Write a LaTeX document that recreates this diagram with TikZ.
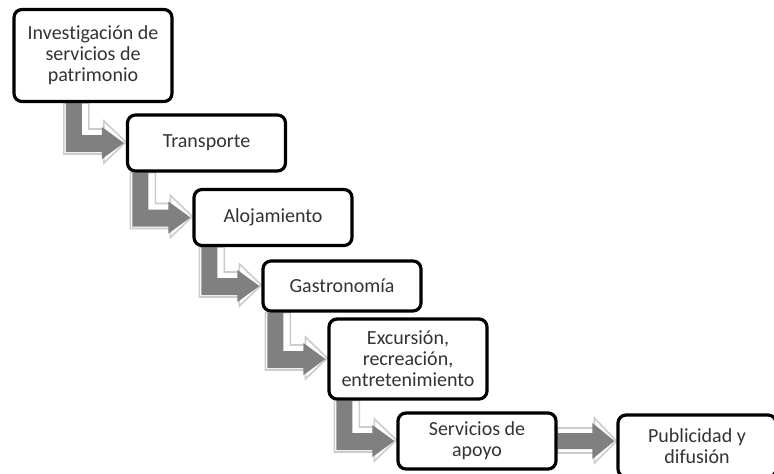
\documentclass[tikz,border=0pt]{standalone}
\usepackage{fontspec}
\setmainfont{Carlito}[Ligatures=NoCommon]
\usetikzlibrary{calc,backgrounds}

% bøyd pil fra bunnen av en boks til venstre side av neste
\newcommand\pilbue[2]{%
  \draw[pilramme] let \p1=(#1.south), \p2=(#2.west) in
    (\x2-31pt,\y1) -- (\x2-18.5pt,\y1) -- (\x2-18.5pt,\y2+7pt) -- (\x2-11pt,\y2+7pt)
    -- (\x2-11pt,\y2+11pt) -- (\x2,\y2+0.5pt) -- (\x2-11pt,\y2-10pt) -- (\x2-11pt,\y2-5.5pt)
    -- (\x2-31pt,\y2-5.5pt) -- cycle;
  \fill[pilfyll] let \p1=(#1.south), \p2=(#2.west) in
    (\x2-30pt,\y1) -- (\x2-22pt,\y1) -- (\x2-22pt,\y2+4pt) -- (\x2-12pt,\y2+4pt)
    -- (\x2-12pt,\y2+8pt) -- (\x2-1pt,\y2) -- (\x2-12pt,\y2-8pt) -- (\x2-12pt,\y2-4.5pt)
    -- (\x2-30pt,\y2-4.5pt) -- cycle;
}
% rett pil
\newcommand\pilrett[2]{%
  \draw[pilramme] let \p1=(#1.east), \p2=(#2.west) in
    (\x1,\y1+6.5pt) -- (\x2-11pt,\y1+6.5pt) -- (\x2-11pt,\y1+11.5pt) -- (\x2,\y1)
    -- (\x2-11pt,\y1-11pt) -- (\x2-11pt,\y1-6pt) -- (\x1,\y1-6pt) -- cycle;
  \fill[pilfyll] let \p1=(#1.east), \p2=(#2.west) in
    (\x1,\y1+4pt) -- (\x2-12pt,\y1+4pt) -- (\x2-12pt,\y1+9pt) -- (\x2-1pt,\y1)
    -- (\x2-12pt,\y1-9pt) -- (\x2-12pt,\y1-4pt) -- (\x1,\y1-4pt) -- cycle;
}

\begin{document}
\begin{tikzpicture}[x=0.5pt,y=-0.5pt,
    boks/.style={draw=black,fill=white,line width=1.6pt,rounded corners=4pt,
      minimum width=79pt,align=center,inner sep=2pt,text=black!80,
      font=\fontsize{10}{10.5}\selectfont},
    pilramme/.style={draw=black!20,fill=white,line width=0.8pt},
    pilfyll/.style={fill=gray}]
  \useasboundingbox (0,0) rectangle (774,473);
  % Bokser
  \node[boks,minimum height=46pt] (invest) at (93,55.5) {Investigación de\\servicios de\\patrimonio};
  \node[boks,minimum height=28pt] (transp) at (206.5,143) {Transporte};
  \node[boks,minimum height=28pt] (aloj) at (273,217.5) {Alojamiento};
  \node[boks,minimum height=25pt] (gastro) at (342,286) {Gastronomía};
  \node[boks,minimum height=40pt] (excur) at (408,359) {Excursión,\\recreación,\\entretenimiento};
  \node[boks,minimum height=28pt] (apoyo) at (477,441) {Servicios de\\apoyo};
  \node[boks,minimum height=31pt] (public) at (697,446) {Publicidad y\\difusión};
  % Piler
  \begin{scope}[on background layer]
    \pilbue{invest}{transp}
    \pilbue{transp}{aloj}
    \pilbue{aloj}{gastro}
    \pilbue{gastro}{excur}
    \pilbue{excur}{apoyo}
    \pilrett{apoyo}{public}
  \end{scope}
\end{tikzpicture}
\end{document}
